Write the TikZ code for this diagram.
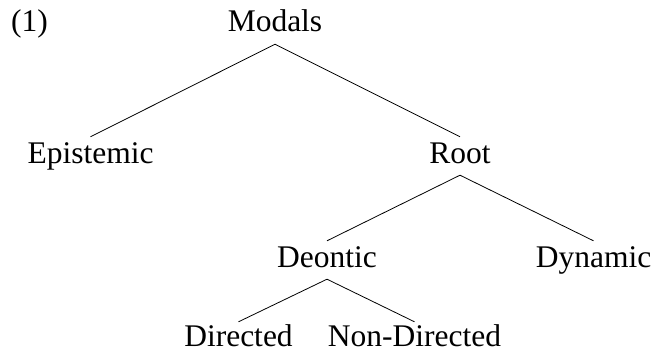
\documentclass[tikz,border=0pt]{standalone}
\usepackage{fontspec}
\setmainfont{Liberation Serif}
\begin{document}
\begin{tikzpicture}[x=1pt,y=-1pt,
  lbl/.style={anchor=base,inner sep=4pt,text height=22pt,text depth=8pt,font=\fontsize{31.5}{36}\selectfont},
  leaf/.style={lbl,inner ysep=0pt,text height=24pt,text depth=0pt},
  edge/.style={draw=black,line width=0.8pt}]
\useasboundingbox (0,0) rectangle (653,350);
\node[lbl] (num) at (29.5,32) {(1)};
\node[lbl] (modals) at (275,32) {Modals};
\node[lbl] (epi) at (90.5,163) {Epistemic};
\node[lbl] (root) at (460,163) {Root};
\node[lbl] (deon) at (327,267) {Deontic};
\node[lbl] (dyn) at (593.5,267) {Dynamic};
\node[leaf] (dir) at (238.5,346) {Directed};
\node[leaf] (nondir) at (414.5,346) {Non-Directed};
\draw[edge] (epi.north) -- (modals.south) -- (root.north);
\draw[edge] (deon.north) -- (root.south) -- (dyn.north);
\draw[edge] (dir.north) -- (deon.south) -- (nondir.north);
\end{tikzpicture}
\end{document}
